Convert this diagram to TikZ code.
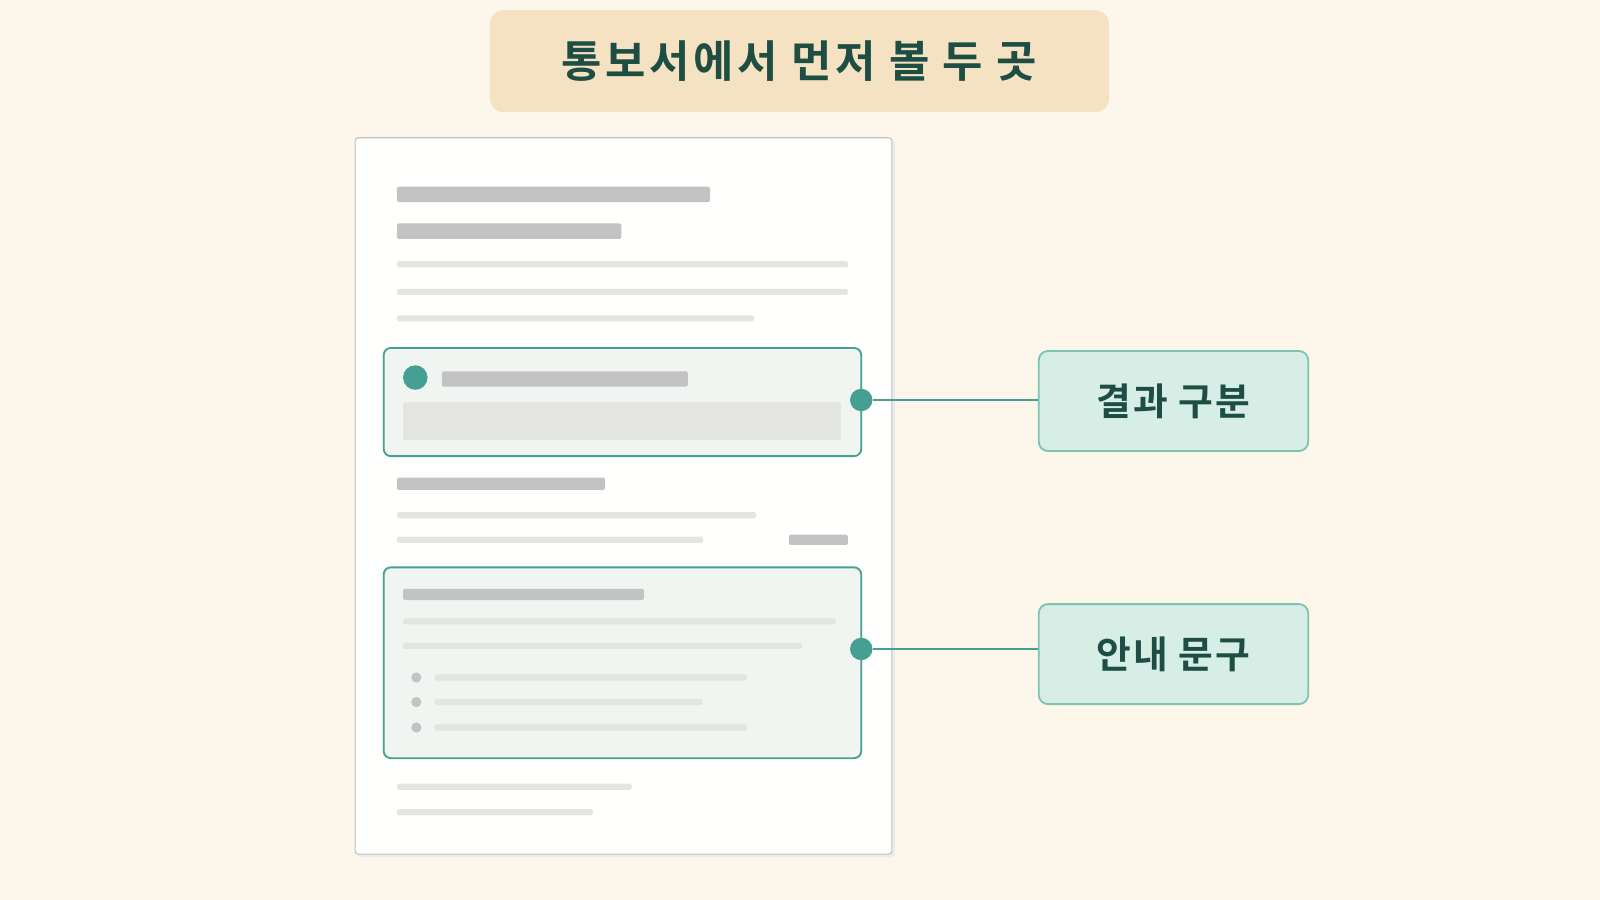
\documentclass[tikz,border=0pt]{standalone}
\usepackage{fontspec}
\newfontfamily\kr{Noto Sans CJK KR}[BoldFont={Noto Sans CJK KR Bold}]
\newfontfamily\krw{Noto Sans CJK KR}[BoldFont={Noto Sans CJK KR Bold},LetterSpace=8]
\newfontfamily\krl{Noto Sans CJK KR}[BoldFont={Noto Sans CJK KR Bold},LetterSpace=6]
\definecolor{bg}{HTML}{FDF6EA}
\definecolor{titlebg}{HTML}{F5E2C2}
\definecolor{ink}{HTML}{1E4D44}
\definecolor{teal}{HTML}{45A093}
\definecolor{tealfill}{HTML}{F0F5F1}
\definecolor{lblfill}{HTML}{D6EEE5}
\definecolor{lblline}{HTML}{7DC4B3}
\definecolor{dark}{HTML}{C3C3C3}
\definecolor{light}{HTML}{E4E4E2}
\begin{document}
\begin{tikzpicture}[x=1pt,y=-1pt,
 bar/.style={fill=dark,rounded corners=1.5pt},
 ln/.style={fill=light,rounded corners=1.5pt},
 hl/.style={draw=teal,line width=1.8pt,fill=tealfill,rounded corners=7pt},
 dot/.style={circle,fill=teal,inner sep=0pt,minimum size=22pt},
 lbl/.style={draw=lblline,line width=1.8pt,fill=lblfill,rounded corners=9pt,minimum width=264pt,minimum height=98pt,font=\krl\bfseries\fontsize{37}{42}\selectfont,text=ink},
 conn/.style={teal,line width=2.4pt}]
\fill[bg] (0,0) rectangle (1568,882);
\useasboundingbox (0,0) rectangle (1568,882);
\node[fill=titlebg,rounded corners=14pt,minimum width=607pt,minimum height=100pt,font=\krw\bfseries\fontsize{43}{48}\selectfont,text=ink] (title) at (783.5,60) {통보서에서 먼저 볼 두 곳};
% document
\fill[black!8,rounded corners=3pt] (350,138) rectangle (877,840);
\filldraw[fill=white!97!bg,draw=black!25,line width=1pt,rounded corners=3pt] (348,135) rectangle (874,837);
\fill[bar] (389,183) rectangle (696,198);
\fill[bar] (389,219) rectangle (609,234);
\fill[ln] (389,256) rectangle (831,262);
\fill[ln] (389,283) rectangle (831,289);
\fill[ln] (389,309) rectangle (739,315);
% box 1
\draw[hl] (376,341) rectangle (844,447);
\fill[teal] (407,370) circle (12);
\fill[bar] (433,364) rectangle (674,379);
\fill[light,rounded corners=2pt] (395,394) rectangle (824,431);
\fill[bar] (389,468) rectangle (593,480);
\fill[ln] (389,502) rectangle (741,508);
\fill[ln] (389,526) rectangle (689,532);
\fill[bar] (773,524) rectangle (831,534);
% box 2
\draw[hl] (376,556) rectangle (844,743);
\fill[bar] (395,577) rectangle (631,588);
\fill[ln] (395,606) rectangle (819,612);
\fill[ln] (395,630) rectangle (786,636);
\foreach \y/\e in {664/732,688/689,713/732}{
 \fill[dark] (408,\y) circle (5);
 \fill[ln] (426,\y-3) rectangle (\e,\y+3);}
\fill[ln] (389,768) rectangle (619,774);
\fill[ln] (389,793) rectangle (581,799);
% labels
\node[lbl] (l1) at (1150,393) {결과 구분};
\node[lbl] (l2) at (1150,641) {안내 문구};
\node[dot] (d1) at (844,392) {};
\node[dot] (d2) at (844,636) {};
\draw[conn] (d1) -- (d1 -| l1.west);
\draw[conn] (d2) -- (d2 -| l2.west);
\end{tikzpicture}
\end{document}
